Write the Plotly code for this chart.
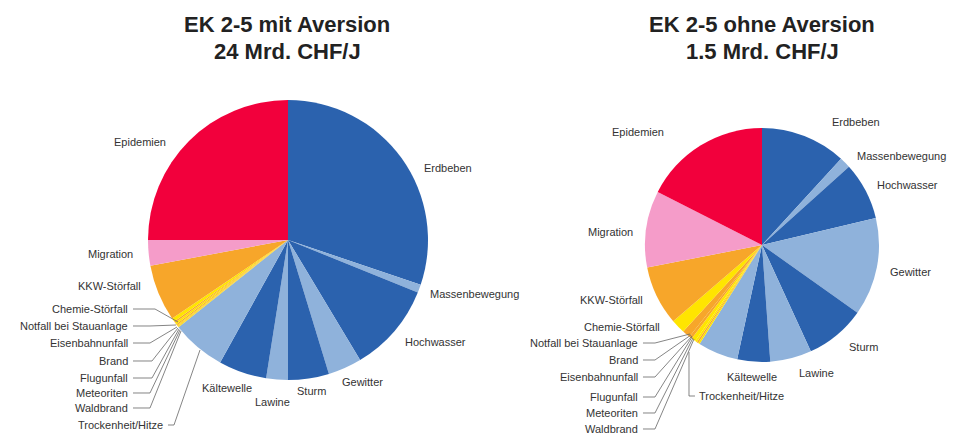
import plotly.graph_objects as go

W, H = 962, 435
OFF = 8  # page body margin offset

# ---- data (slice sizes read as angles in degrees, clockwise from 12 o'clock) ----
labels = ["Erdbeben", "Massenbewegung", "Hochwasser", "Gewitter", "Sturm", "Lawine",
          "Kältewelle", "Trockenheit/Hitze", "Waldbrand", "Meteoriten", "Flugunfall",
          "Brand", "Eisenbahnunfall", "Notfall bei Stauanlage", "Chemie-Störfall",
          "KKW-Störfall", "Migration", "Epidemien"]
values_mit = [108.6, 3.4, 37, 14, 17, 9, 20, 22.5, 0.3, 0.3, 0.4, 0.5, 0.8, 0.6, 1.5, 23.5, 10.6, 90]
values_ohne = [42.5, 5.5, 28.6, 48.7, 30, 20.6, 16.3, 20, 0.8, 0.8, 1.0, 2.0, 1.5, 4.0, 7.0, 29.5, 38.1, 63]
title_mit = ["EK 2-5 mit Aversion", "24 Mrd. CHF/J"]
title_ohne = ["EK 2-5 ohne Aversion", "1.5 Mrd. CHF/J"]

DB, LB = "#2b62ae", "#8fb2db"
RED, PINK, OR, YE = "#f2003c", "#f59cc9", "#f7a62a", "#ffe500"
colors_mit = [DB, LB, DB, LB, DB, LB, DB, LB, YE, OR, YE, OR, YE, OR, YE, OR, PINK, RED]
colors_ohne = [DB, LB, DB, LB, DB, LB, DB, LB, YE, OR, YE, YE, OR, OR, YE, OR, PINK, RED]

def px(x): return (x - OFF) / W
def py(y): return 1 - (y - OFF) / H

fig = go.Figure()

def add_pie(vals, cols, cx, cy, r, name):
    fig.add_trace(go.Pie(
        labels=labels, values=vals, sort=False, direction="clockwise", rotation=0,
        marker=dict(colors=cols, line=dict(width=0)), textinfo="none",
        hoverinfo="label+percent", showlegend=False, name=name,
        domain=dict(x=[px(cx - r), px(cx + r)], y=[py(cy + r), py(cy - r)])))

add_pie(values_mit, colors_mit, 288, 240, 140, "mit")
add_pie(values_ohne, colors_ohne, 762, 245, 117, "ohne")

ann = []
def title(lines, x):
    for t, y in zip(lines, [24, 51]):
        ann.append(dict(x=px(x), y=py(y), xref="paper", yref="paper", text="<b>%s</b>" % t,
                        showarrow=False, xanchor="center", yanchor="middle",
                        font=dict(family="Liberation Sans, Arial", size=22, color="#222")))
title(title_mit, 287)
title(title_ohne, 762)

LF = dict(family="Liberation Sans, Arial", size=11, color="#333")
def lab(t, x, y, anchor="left"):
    ann.append(dict(x=px(x), y=py(y), xref="paper", yref="paper", text=t, showarrow=False,
                    xanchor=anchor, yanchor="middle", font=LF))

# left pie labels
lab("Epidemien", 140, 142, "center")
lab("Erdbeben", 422, 168)
lab("Massenbewegung", 428, 294)
lab("Hochwasser", 403, 342)
lab("Gewitter", 340, 382)
lab("Sturm", 295, 391)
lab("Lawine", 253, 402)
lab("Kältewelle", 200, 388)
lab("Migration", 135, 254, "right")
lab("KKW-Störfall", 143, 286, "right")
left_small = [("Chemie-Störfall", 309), ("Notfall bei Stauanlage", 326), ("Eisenbahnunfall", 343),
              ("Brand", 361), ("Flugunfall", 378), ("Meteoriten", 393), ("Waldbrand", 408)]
for t, y in left_small:
    lab(t, 130, y, "right")
lab("Trockenheit/Hitze", 165, 425, "right")

# right pie labels
lab("Epidemien", 638, 132, "center")
lab("Erdbeben", 830, 122)
lab("Massenbewegung", 855, 156)
lab("Hochwasser", 875, 185)
lab("Gewitter", 888, 272)
lab("Sturm", 847, 347)
lab("Lawine", 797, 373)
lab("Kältewelle", 725, 377)
lab("Migration", 635, 232, "right")
lab("KKW-Störfall", 645, 300, "right")
lab("Chemie-Störfall", 662, 327, "right")
right_small = [("Notfall bei Stauanlage", 343), ("Brand", 360), ("Eisenbahnunfall", 377),
               ("Flugunfall", 397), ("Meteoriten", 413), ("Waldbrand", 429)]
for t, y in right_small:
    lab(t, 640, y, "right")
lab("Trockenheit/Hitze", 697, 396)

shapes = []
def line(pts):
    path = "M " + " L ".join("%f,%f" % (px(x), py(y)) for x, y in pts)
    shapes.append(dict(type="path", path=path, xref="paper", yref="paper",
                       line=dict(color="#666", width=0.8)))

# left leader lines
lx = [(155, 309, 178, 322), (150, 326, 176, 325), (150, 343, 177, 327), (152, 361, 178, 328),
      (152, 378, 179, 329), (150, 393, 180, 330), (150, 408, 181, 331)]
for (x0, y0, x1, y1), (t, y) in zip(lx, left_small):
    line([(133, y), (x0, y), (x1, y1)])
line([(168, 425), (174, 425), (200, 350)])

# right leader lines
rx = [(690, 334), (691, 335), (692, 336), (692, 337), (693, 338), (694, 339)]
for (x1, y1), (t, y) in zip(rx, right_small):
    line([(643, y), (655, y), (x1, y1)])
line([(695, 396), (689, 396), (689, 352)])

fig.update_layout(width=W, height=H, margin=dict(l=0, r=0, t=0, b=0),
                  paper_bgcolor="white", plot_bgcolor="white",
                  annotations=ann, shapes=shapes)
fig.write_html("out.html")
